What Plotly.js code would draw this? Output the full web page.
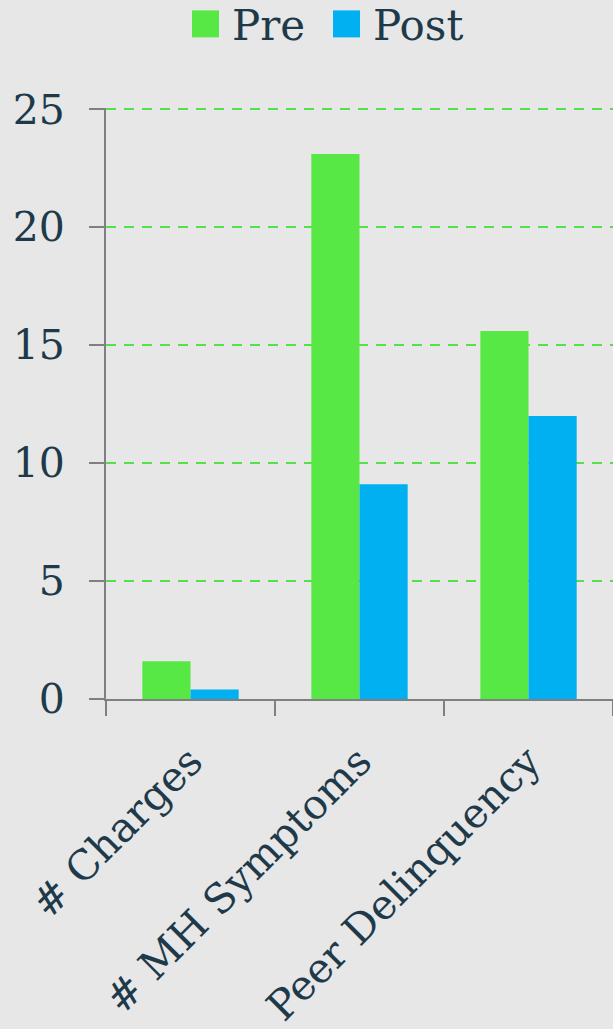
<!DOCTYPE html>
<html>
<head>
<meta charset="utf-8">
<script src="https://cdn.plot.ly/plotly-3.0.1.min.js"></script>
<style>
  html, body { margin: 0; padding: 0; background: #e7e7e7; }
  #chart { width: 613px; height: 1029px; }
</style>
</head>
<body>
<div id="chart"></div>
<script>
// Outcome measures, before and after
const categories = ['# Charges', '# MH Symptoms', 'Peer Delinquency'];
const preValues = [1.6, 23.1, 15.6];
const postValues = [0.4, 9.1, 12.0];
const yTicks = [0, 5, 10, 15, 20, 25];

const textColor = '#1e3a4a';
const fontFamily = '"DejaVu Serif", "Liberation Serif", serif';

const traces = [
  {
    type: 'bar', name: 'Pre', x: categories, y: preValues,
    marker: { color: '#57e845', line: { width: 0 } }
  },
  {
    type: 'bar', name: 'Post', x: categories, y: postValues,
    marker: { color: '#00b0f0', line: { width: 0 } }
  }
];

const layout = {
  width: 613, height: 1029,
  margin: { l: 106, r: 0, t: 108, b: 330, autoexpand: false },
  paper_bgcolor: '#e7e7e7',
  plot_bgcolor: 'rgba(0,0,0,0)',
  font: { family: fontFamily, color: textColor },
  barmode: 'group',
  bargap: 0.43,
  bargroupgap: 0,
  showlegend: true,
  legend: {
    orientation: 'h', x: 0.1696, xanchor: 'left', y: 1.142, yanchor: 'middle',
    entrywidth: 96, entrywidthmode: 'pixels',
    font: { size: 42, color: textColor, family: fontFamily },
    bgcolor: 'rgba(0,0,0,0)', traceorder: 'normal'
  },
  xaxis: {
    type: 'category',
    range: [-0.5, 2.5],
    showline: true, linecolor: '#808080', linewidth: 2,
    ticks: 'outside', tickson: 'boundaries', ticklen: 15, tickwidth: 2, tickcolor: '#808080',
    tickangle: -45,
    tickfont: { size: 41, color: textColor, family: fontFamily },
    ticklabelstandoff: 20,
    showgrid: false, zeroline: false
  },
  yaxis: {
    range: [0, 25.05],
    tickmode: 'array', tickvals: yTicks, ticktext: yTicks.map(String),
    showline: true, linecolor: '#808080', linewidth: 2,
    ticks: 'outside', ticklen: 15, tickwidth: 2, tickcolor: '#808080',
    tickfont: { size: 41, color: textColor, family: fontFamily },
    ticklabelstandoff: 16,
    showgrid: true, gridcolor: '#55e04a', gridwidth: 2, griddash: '10px,8px',
    zeroline: false
  }
};

// Larger square legend swatches, sitting a little left of the label
function enlargeSwatches() {
  document.querySelectorAll('#chart .legendpoints path').forEach(p => {
    p.setAttribute('d', 'M7,13.5H-20V-13.5H7Z');
  });
}

Plotly.newPlot('chart', traces, layout, { displayModeBar: false, staticPlot: true })
  .then(enlargeSwatches);
</script>
</body>
</html>
